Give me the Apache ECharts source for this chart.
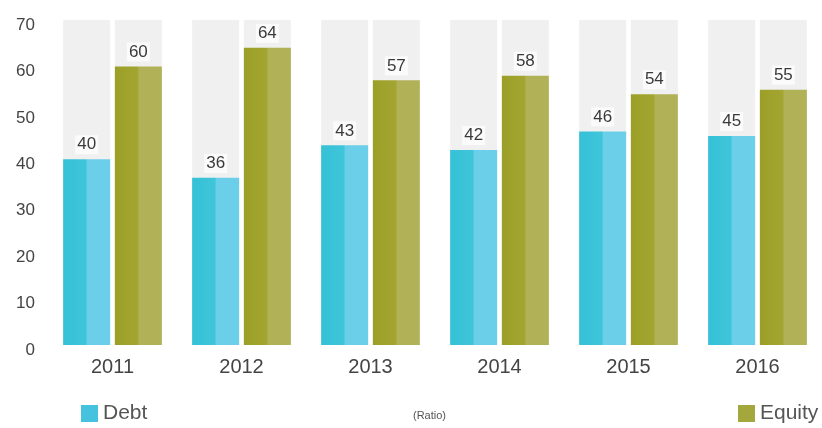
<!DOCTYPE html>
<html>
<head>
<meta charset="utf-8">
<script src="https://cdn.jsdelivr.net/npm/echarts@6/dist/echarts.min.js"></script>
<style>
  html, body { margin: 0; padding: 0; background: #ffffff; }
  #chart { width: 822px; height: 428px; }
</style>
</head>
<body>
<div id="chart"></div>
<script>
// Financing mix by year (ratio, %)
const years = ['2011', '2012', '2013', '2014', '2015', '2016'];
const debt = [40, 36, 43, 42, 46, 45];
const equity = [60, 64, 57, 58, 54, 55];
const yTicks = { min: 0, max: 70, step: 10 };

const FONT = '"Liberation Sans", Arial, sans-serif';

function stripes(c1, c2, c3) {
  return {
    type: 'linear', x: 0, y: 0, x2: 1, y2: 0,
    colorStops: [
      { offset: 0, color: c1 },
      { offset: 0.48, color: c2 },
      { offset: 0.52, color: c3 },
      { offset: 1, color: c3 }
    ]
  };
}

const valueLabel = {
  show: true,
  position: 'top',
  distance: 5,
  fontFamily: FONT,
  fontSize: 17,
  color: '#3a3a3a',
  backgroundColor: 'rgba(255,255,255,0.75)',
  padding: [1, 2]
};

const chart = echarts.init(document.getElementById('chart'), null, { renderer: 'canvas' });

chart.setOption({
  animation: false,
  backgroundColor: '#ffffff',
  title: {
    text: '(Ratio)',
    left: 408,
    top: 405,
    textStyle: { fontFamily: FONT, fontSize: 11, fontWeight: 'normal', color: '#555' }
  },
  legend: [
    {
      data: [{ name: 'Debt', itemStyle: { color: '#45c3de' } }],
      left: 76, top: 398,
      icon: 'rect', itemWidth: 17, itemHeight: 17, itemGap: 8,
      textStyle: { fontFamily: FONT, fontSize: 21, color: '#555' }
    },
    {
      data: [{ name: 'Equity', itemStyle: { color: '#a4a83c' } }],
      left: 733, top: 398,
      icon: 'rect', itemWidth: 17, itemHeight: 17, itemGap: 8,
      textStyle: { fontFamily: FONT, fontSize: 21, color: '#555' }
    }
  ],
  grid: { left: 48, width: 777, top: 20, bottom: 83, containLabel: false },
  xAxis: {
    type: 'category',
    data: years,
    axisLine: { show: false },
    axisTick: { show: false },
    axisLabel: { fontFamily: FONT, fontSize: 20, color: '#444', margin: 12 }
  },
  yAxis: {
    type: 'value',
    min: yTicks.min,
    max: yTicks.max,
    interval: yTicks.step,
    splitLine: { show: false },
    axisLine: { show: false },
    axisTick: { show: false },
    axisLabel: {
      fontFamily: FONT, fontSize: 17, color: '#444', margin: 13,
      verticalAlign: 'top', lineHeight: 10
    }
  },
  series: [
    {
      name: 'Debt',
      type: 'bar',
      data: debt,
      barWidth: 47,
      barGap: '10%',
      showBackground: true,
      backgroundStyle: { color: '#f0f0f0' },
      itemStyle: { color: stripes('#35c1d6', '#3fc5da', '#6ccfe9') },
      label: valueLabel
    },
    {
      name: 'Equity',
      type: 'bar',
      data: equity,
      barWidth: 47,
      barGap: '10%',
      showBackground: true,
      backgroundStyle: { color: '#f0f0f0' },
      itemStyle: { color: stripes('#9b9f27', '#a3a530', '#b1b157') },
      label: valueLabel
    }
  ]
});
</script>
</body>
</html>
